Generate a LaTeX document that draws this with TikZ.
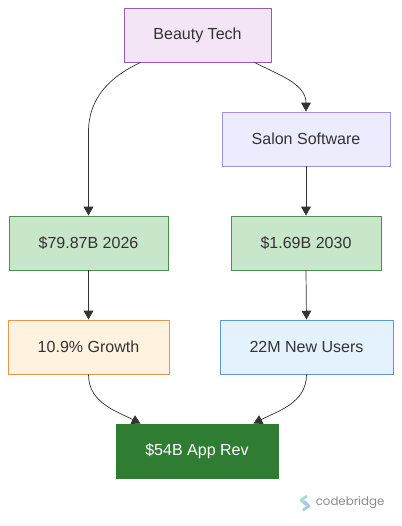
\documentclass[tikz,border=0pt]{standalone}
\usepackage{fontspec}
\setmainfont{Liberation Sans}
\newfontfamily\brandfont{Poppins}
\usetikzlibrary{arrows.meta,positioning}
\definecolor{beautyfill}{HTML}{F3E5F5}
\definecolor{beautyline}{HTML}{9B59B6}
\definecolor{salonfill}{HTML}{ECECFF}
\definecolor{salonline}{HTML}{A98FE0}
\definecolor{marketfill}{HTML}{C8E6C9}
\definecolor{marketline}{HTML}{4C8F50}
\definecolor{growthfill}{HTML}{FFF3E0}
\definecolor{growthline}{HTML}{E59A45}
\definecolor{usersfill}{HTML}{E3F2FD}
\definecolor{usersline}{HTML}{5B9BD5}
\definecolor{apprevfill}{HTML}{2E7D32}
\definecolor{inkgray}{HTML}{333333}
\definecolor{logogreen}{HTML}{A8DCCB}
\definecolor{logoblue}{HTML}{A9C8E6}

\begin{document}
\begin{tikzpicture}[
  x=0.25mm, y=-0.25mm,
  font=\fontsize{11.4pt}{13pt}\selectfont,
  box/.style={draw, align=center, line width=0.65pt, minimum height=13.5mm, inner sep=0pt, text=inkgray},
  arrow/.style={-{Triangle[length=2.2mm,width=2.4mm]}, line width=0.5pt, draw=inkgray}
]
\useasboundingbox (0,0) rectangle (401,526);

\node[box, minimum width=36.75mm, fill=beautyfill, draw=beautyline] (beauty) at (197.5,35) {Beauty Tech};
\node[box, minimum width=42mm, fill=salonfill, draw=salonline] (salon) at (306,139) {Salon Software};

\node[box, minimum width=39.75mm, fill=marketfill, draw=marketline] (market) at (88.5,243) {\$79.87B 2026};
\node[box, minimum width=37.5mm, fill=marketfill, draw=marketline] (salonmarket) at (306,243) {\$1.69B 2030};

\node[box, minimum width=40.25mm, fill=growthfill, draw=growthline] (growth) at (88.5,347) {10.9\% Growth};
\node[box, minimum width=43.25mm, fill=usersfill, draw=usersline] (users) at (306.5,347) {22M New Users};

\node[box, minimum width=40.5mm, fill=apprevfill, draw=apprevfill, text=white] (apprev) at (197,451) {\$54B App Rev};

% bends of the long connector
\coordinate (bendleft) at (88.5,132);

\draw[arrow] ([xshift=4.25mm]beauty.south west) to[out=-155,in=90] (bendleft) -- (market.north);
\draw[arrow] ([xshift=-4.25mm]beauty.south east) to[out=-27,in=90] (salon.north);
\draw[arrow] (salon.south) -- (salonmarket.north);
\draw[arrow] (market.south) -- (growth.north);
\draw[arrow] (salonmarket.south) -- (users.north);
\draw[arrow] (growth.south) to[out=-90,in=153] ([xshift=6.25mm]apprev.north west);
\draw[arrow] (users.south) to[out=-90,in=27] ([xshift=-6.25mm]apprev.north east);

% watermark
\node[text=black!45, font=\brandfont\fontsize{8.4pt}{10pt}\selectfont, anchor=west, inner sep=0pt] (brand) at (315.5,503) {codebridge};
\coordinate (logo) at (305,503);
\draw[line width=1.9pt, line join=round, draw=logogreen] ([shift={(2,-7)}]logo) -- ([shift={(-4,-3)}]logo) -- ([shift={(1,2)}]logo);
\draw[line width=1.9pt, line join=round, draw=logoblue] ([shift={(-1,-2)}]logo) -- ([shift={(4,3)}]logo) -- ([shift={(-2,7)}]logo);
\end{tikzpicture}
\end{document}
